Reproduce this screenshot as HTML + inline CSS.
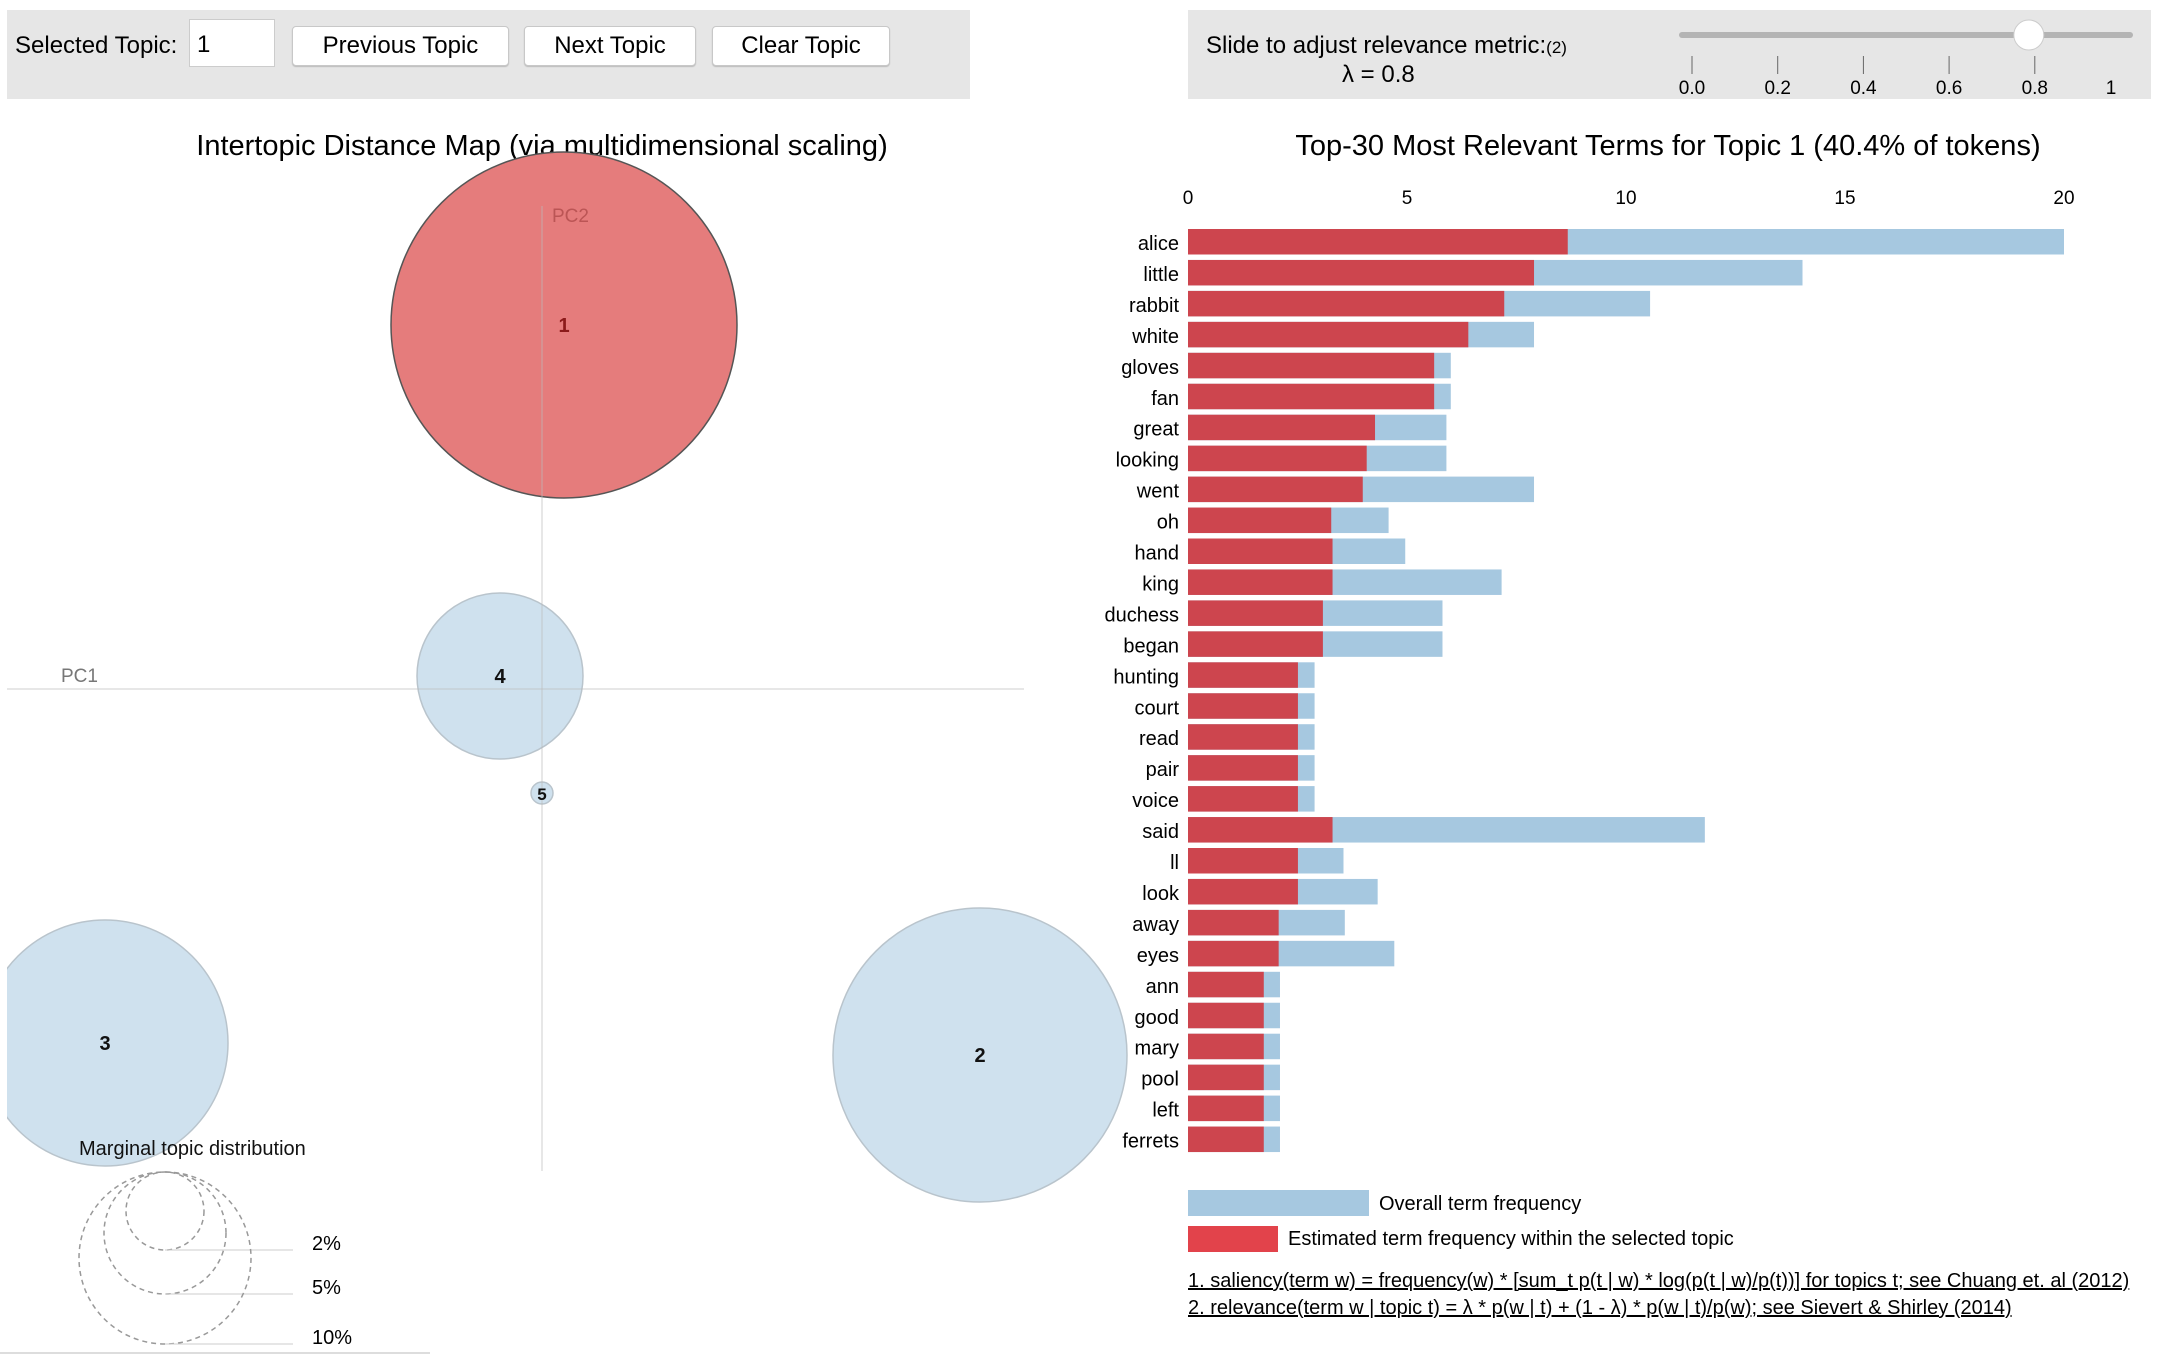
<!DOCTYPE html>
<html><head><meta charset="utf-8">
<style>
body{margin:0;width:2158px;height:1356px;background:#fff;font-family:"Liberation Sans",sans-serif;position:relative;overflow:hidden}
.panel{position:absolute;background:#e6e6e6}
.btn{position:absolute;top:26px;height:38px;background:#fff;border:1px solid #c8c8c8;border-radius:4px;font-size:24px;line-height:38px;text-align:center;box-shadow:0 1px 1px #bbb}
svg{position:absolute;left:0;top:0}
</style></head><body>
<div class="panel" style="left:7px;top:10px;width:963px;height:89px"></div>
<div style="position:absolute;left:15px;top:32px;font-size:24px">Selected Topic:</div>
<div style="position:absolute;left:189px;top:19px;width:86px;height:48px;background:#fff;border:1px solid #ccc;font-size:24px;line-height:50px;padding-left:7px;box-sizing:border-box">1</div>
<div class="btn" style="left:292px;width:215px">Previous Topic</div>
<div class="btn" style="left:524px;width:170px">Next Topic</div>
<div class="btn" style="left:712px;width:176px">Clear Topic</div>
<div class="panel" style="left:1188px;top:10px;width:963px;height:89px"></div>
<div style="position:absolute;left:1206px;top:32px;font-size:24px">Slide to adjust relevance metric:<span style="font-size:17px">(2)</span></div>
<div style="position:absolute;left:1342px;top:61px;font-size:24px">λ = 0.8</div>
<svg width="2158" height="1356" id="s">
<g id="slider">
<rect x="1679" y="32" width="454" height="6" rx="3" fill="#b4b4b4"/>
</g>
<g id="left"></g><g id="right"></g>
</svg>
<script>
const NS="http://www.w3.org/2000/svg";
function el(t,a,p,txt){const e=document.createElementNS(NS,t);for(const k in a)e.setAttribute(k,a[k]);if(txt!==undefined)e.textContent=txt;p.appendChild(e);return e;}
const svg=document.getElementById('s');
// slider
const sliderTicks=["0.0","0.2","0.4","0.6","0.8","1"];
const sliderVals=[0,0.2,0.4,0.6,0.8,1];
const lambda=0.8;
const sg=document.getElementById('slider');
sliderVals.forEach((v,i)=>{
 const x=i===5?2111:1692+v*428.5;
 if(i<5){const l=el('line',{x1:x,x2:x,y1:56,y2:74,stroke:'#666'},sg);}
 const t=el('text',{x:x,y:94,'text-anchor':'middle','font-size':19},sg,sliderTicks[i]);
 
});
const knob=el('circle',{cx:1692+lambda*428.5-6,cy:35,r:15,fill:'#fff',stroke:'#ccc'},sg);


// ---- Intertopic map ----
const topicIds=["1","2","3","4","5"];
const pc1=[0.22,4.38,-4.37,-0.42,0];
const pc2=[3.64,-3.66,-3.54,0.13,-1.04];
const radii=[173,147,123,83,11];
const L=document.getElementById('left');
const cx0=542,cy0=689,unit=100;
const px=v=>cx0+v*unit, py=v=>cy0-v*unit;
let t=el('text',{x:542,y:155,'text-anchor':'middle','font-size':29},L,'Intertopic Distance Map (via multidimensional scaling)');

el('clipPath',{id:'cp'},L);el('rect',{x:7,y:0,width:1150,height:1356},document.getElementById('cp'));
const cg=el('g',{'clip-path':'url(#cp)'},L);
topicIds.forEach((id,i)=>{
 const sel=i===0;
 const c=el('circle',{cx:px(pc1[i]),cy:py(pc2[i]),r:radii[i],fill:sel?'#e57c7c':'#cfe1ee',stroke:sel?'#555':'#b9c4cc','stroke-width':1.5},cg);
 
});
let a=el('line',{x1:542,x2:542,y1:206,y2:1171,stroke:'#bbb','stroke-opacity':0.7},L);

a=el('line',{x1:7,x2:1024,y1:689,y2:689,stroke:'#bbb','stroke-opacity':0.7},L);

t=el('text',{x:61,y:682,'font-size':19,fill:'#777'},L,'PC1');
t=el('text',{x:552,y:222,'font-size':19,fill:'#b55'},L,'PC2');
topicIds.forEach((id,i)=>{
 const l=el('text',{x:px(pc1[i]),y:py(pc2[i])+7,'text-anchor':'middle','font-size':i===4?17:20,'font-weight':'bold',fill:i===0?'#8b1a1a':'#111'},L,id);
 
});
t=el('text',{x:79,y:1155,'font-size':20,fill:'#111'},L,'Marginal topic distribution');
const mLabels=["2%","5%","10%"];
const mRadii=[39,61,86];
mRadii.forEach((r,i)=>{
 const c=el('circle',{cx:165,cy:1172+r,r:r,fill:'none',stroke:'#999','stroke-dasharray':'5,4','stroke-width':1.5},L);
 
 const ln=el('line',{x1:165,x2:293,y1:1172+2*r,y2:1172+2*r,stroke:'#ccc'},L);
 
 const tx=el('text',{x:312,y:1172+2*r,'font-size':20},L,mLabels[i]);
 
});
el('line',{x1:0,x2:430,y1:1353,y2:1353,stroke:'#ddd','stroke-width':2},L);

// ---- Bar chart ----
const terms=["alice","little","rabbit","white","gloves","fan","great","looking","went","oh","hand","king","duchess","began","hunting","court","read","pair","voice","said","ll","look","away","eyes","ann","good","mary","pool","left","ferrets"];
const overall=[20.0,14.03,10.55,7.9,6.0,6.0,5.9,5.9,7.9,4.58,4.96,7.16,5.81,5.81,2.89,2.89,2.89,2.89,2.89,11.8,3.55,4.33,3.58,4.71,2.1,2.1,2.1,2.1,2.1,2.1];
const topicFreq=[8.67,7.9,7.22,6.4,5.62,5.62,4.27,4.08,3.99,3.27,3.3,3.3,3.08,3.08,2.51,2.51,2.51,2.51,2.51,3.3,2.51,2.51,2.07,2.07,1.73,1.73,1.73,1.73,1.73,1.73];
const xTicks=[0,5,10,15,20];
const R=document.getElementById('right');
const bx=v=>1188+v*43.8;
const by=i=>229+i*30.95;
t=el('text',{x:1668,y:155,'text-anchor':'middle','font-size':29},R,'Top-30 Most Relevant Terms for Topic 1 (40.4% of tokens)');

xTicks.forEach(v=>{const tx=el('text',{x:bx(v),y:204,'text-anchor':'middle','font-size':19},R,String(v));
 });
terms.forEach((w,i)=>{
 const b=el('rect',{x:bx(0),y:by(i),width:bx(overall[i])-bx(0),height:25.5,fill:'#a6c8e0'},R);
 
 const r=el('rect',{x:bx(0),y:by(i),width:bx(topicFreq[i])-bx(0),height:25.5,fill:'#cd454e'},R);
 
 const tx=el('text',{x:1179,y:by(i)+21,'text-anchor':'end','font-size':20},R,w);
 
});
let lr=el('rect',{x:1188,y:1190,width:181,height:26,fill:'#a6c8e0'},R);
t=el('text',{x:1379,y:1210,'font-size':20},R,'Overall term frequency');
lr=el('rect',{x:1188,y:1226,width:90,height:26,fill:'#e2434b'},R);
t=el('text',{x:1288,y:1245,'font-size':20},R,'Estimated term frequency within the selected topic');
t=el('text',{x:1188,y:1287,'font-size':20,'text-decoration':'underline'},R,'1. saliency(term w) = frequency(w) * [sum_t p(t | w) * log(p(t | w)/p(t))] for topics t; see Chuang et. al (2012)');

t=el('text',{x:1188,y:1314,'font-size':20,'text-decoration':'underline'},R,'2. relevance(term w | topic t) = λ * p(w | t) + (1 - λ) * p(w | t)/p(w); see Sievert & Shirley (2014)');

</script>
</body></html>
